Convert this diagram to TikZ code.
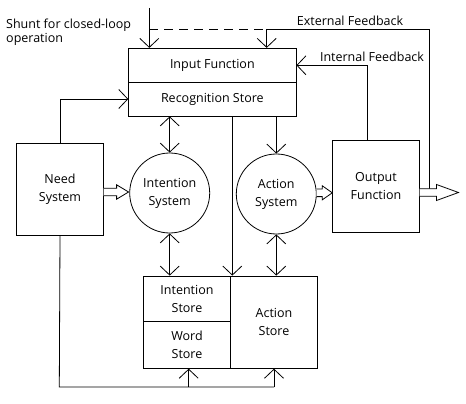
\documentclass[tikz,border=0pt]{standalone}
\usepackage{fontspec}
\setmainfont{Open Sans}
\usetikzlibrary{arrows.meta,calc}
\tikzset{
  lw/.style={line width=0.8pt},
  arr/.style={lw,-{Straight Barb[length=9pt,width=19pt]}},
  darr/.style={lw,{Straight Barb[length=9pt,width=19pt]}-{Straight Barb[length=9pt,width=19pt]}},
  box/.style={draw,lw,inner sep=0pt,align=center,font=\fontsize{12.5}{18}\selectfont},
  circ/.style={draw,lw,circle,inner sep=0pt,align=center,font=\fontsize{12.5}{18}\selectfont},
  lbl/.style={inner sep=0pt,font=\fontsize{12.5}{14}\selectfont},
  hollow/.style={lw,fill=white}
}
\newcommand\hollowarr[4]{% start, end, headlength, headhalf
  \draw[hollow] ($(#1)+(0,-3.8)$) -- ($(#2)+(-#3,-3.8)$) -- ($(#2)+(-#3,-#4)$) -- (#2)
    -- ($(#2)+(-#3,#4)$) -- ($(#2)+(-#3,3.8)$) -- ($(#1)+(0,3.8)$);}
\begin{document}
\begin{tikzpicture}[x=1pt,y=-1pt]
\useasboundingbox[fill=white] (0,0) rectangle (466,404);
% nodes
\node[box,minimum width=167.3pt,minimum height=33.7pt] (inputfn) at (212.35,65.15) {Input Function};
\node[box,minimum width=167.3pt,minimum height=34pt] (recog) at (212.35,99) {Recognition Store};
\node[box,minimum width=86.6pt,minimum height=92pt] (need) at (60,189.3) {Need\\System};
\node[circ,minimum size=80pt] (intsys) at (169.7,193) {Intention\\System};
\node[circ,minimum size=80pt] (actsys) at (276.3,194) {Action\\System};
\node[box,minimum width=86.6pt,minimum height=91.6pt] (output) at (376,186.5) {Output\\Function};
\node[box,minimum width=87.4pt,minimum height=45.3pt] (intstore) at (187,298.65) {Intention\\Store};
\node[box,minimum width=87.4pt,minimum height=47pt] (wordstore) at (187,344.8) {Word\\Store};
\node[box,minimum width=86.6pt,minimum height=92.3pt] (actstore) at (274,322.15) {Action\\Store};
% labels
\node[lbl,anchor=west,align=left] (shuntlbl) at (6,32) {Shunt for closed-loop\\operation};
\node[lbl] (extlbl) at (350,20.7) {External Feedback};
\node[lbl] (intlbl) at (372,56.7) {Internal Feedback};
% coordinates
\coordinate (topin) at (149.3,8);
\coordinate (shuntL) at (149.3,29.3);
\coordinate (shuntR) at (266.7,29.3);
\coordinate (extC) at (429,29.3);
\coordinate (extB) at (429,189);
\coordinate (ifb) at (367.7,65.3);
\coordinate (botL) at (59.3,387);
\coordinate (botW) at (188.7,387);
\coordinate (botR) at (274,387);
\coordinate (midline) at (232.3,116);
% connectors
\draw[arr] (topin) -- (topin |- inputfn.north);
\draw[lw,dashed,dash pattern=on 9pt off 6pt] (shuntL) -- (shuntR);
\draw[arr] (extB) -- (extC) -- (shuntR) -- (shuntR |- inputfn.north);
\draw[arr] (ifb |- output.north) -- (ifb) -- (inputfn.east |- ifb);
\draw[arr] (need.north) -- (need.north |- recog.west) -- (recog.west);
\draw[lw] (need.south) -- (botL) -- (botR);
\draw[arr] (botW) -- (botW |- wordstore.south);
\draw[arr] (botR) -- (actstore.south);
\draw[darr] (intsys.north |- recog.south) -- (intsys.north);
\draw[darr] (intsys.south) -- (intsys.south |- intstore.north);
\draw[arr] (midline) -- (midline |- intstore.north);
\draw[arr] (actsys.north |- recog.south) -- (actsys.north);
\draw[darr] (actsys.south) -- (actsys.south |- actstore.north);
% hollow arrows
\coordinate (h1s) at (need.east |- 0,192);
\coordinate (h1e) at (128.6,192);
\hollowarr{h1s}{h1e}{12}{7.2}
\coordinate (h2s) at (actsys.east |- 0,192.8);
\coordinate (h2e) at (output.west |- 0,192.8);
\hollowarr{h2s}{h2e}{10}{7}
\coordinate (h3s) at (output.east |- 0,192.5);
\coordinate (h3e) at (458.5,192.5);
\hollowarr{h3s}{h3e}{22}{8}
\end{tikzpicture}
\end{document}
